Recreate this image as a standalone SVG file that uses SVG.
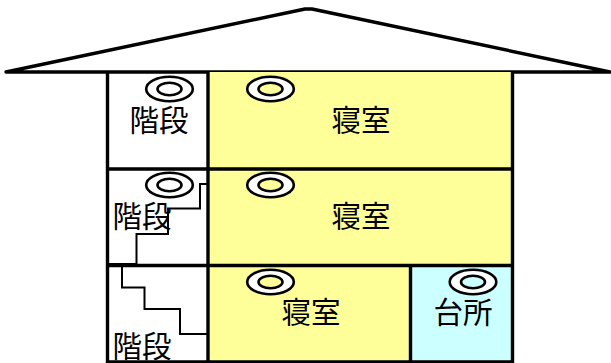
<svg xmlns="http://www.w3.org/2000/svg" width="611" height="363" viewBox="0 0 611 363">
<style>
.w{stroke:#000;stroke-width:3.4;fill:none}
.f{stroke:none}
.s{stroke:#000;stroke-width:2;fill:none}
.o{fill:#fff;stroke:#000;stroke-width:2.6}
.i{stroke:#000;stroke-width:2.6}
text{font-family:"Noto Sans CJK JP","Noto Sans CJK SC",sans-serif;font-size:29.500px;fill:#000;text-anchor:middle}
</style>
<rect width="611" height="363" fill="#fff"/>
<g id="roof"><path d="M6 72 L305 9 L312 9 L610 72 Z" fill="#fff" stroke="#000" stroke-width="3.400" stroke-linejoin="round"/></g>
<g id="room-1"><rect class="f" x="208" y="72" width="304" height="97" fill="#ffff99"/></g>
<g id="room-2"><rect class="f" x="208" y="169" width="304" height="96" fill="#ffff99"/></g>
<g id="room-3"><rect class="f" x="208" y="265" width="202" height="97" fill="#ffff99"/></g>
<g id="kitchen"><rect class="f" x="410" y="265" width="102" height="97" fill="#ccffff"/></g>
<g id="walls">
<path class="w" d="M107.500 72V362H512.500V72M208 72V362M107.500 169H512.500M107.500 265.500H512.500M410.500 265V362"/>
</g>
<g id="connectors">
<path class="s" d="M108 264H136.500V234H168V208.500H200V184H208"/>
<path class="s" d="M122 265V287.500H144.500V309H180V334H208"/>
</g>
<g id="lamp-1"><ellipse class="o" cx="169.500" cy="89" rx="23.300" ry="12.200"/><ellipse class="i" cx="169.500" cy="89" rx="12" ry="6.200" fill="#fff"/></g>
<g id="lamp-2"><ellipse class="o" cx="270.500" cy="89" rx="23.300" ry="12.200"/><ellipse class="i" cx="270.500" cy="89" rx="12" ry="6.200" fill="#ffff99"/></g>
<g id="lamp-3"><ellipse class="o" cx="169.500" cy="185" rx="23.300" ry="12.200"/><ellipse class="i" cx="169.500" cy="185" rx="12" ry="6.200" fill="#fff"/></g>
<g id="lamp-4"><ellipse class="o" cx="270.500" cy="185" rx="23.300" ry="12.200"/><ellipse class="i" cx="270.500" cy="185" rx="12" ry="6.200" fill="#ffff99"/></g>
<g id="lamp-5"><ellipse class="o" cx="270.500" cy="282" rx="23.300" ry="12.200"/><ellipse class="i" cx="270.500" cy="282" rx="12" ry="6.200" fill="#ffff99"/></g>
<g id="lamp-6"><ellipse class="o" cx="473" cy="282" rx="23.300" ry="12.200"/><ellipse class="i" cx="473" cy="282" rx="12" ry="6.200" fill="#ccffff"/></g>
<g id="labels">
<text x="159" y="130.500">階段</text>
<text x="361" y="130.500">寝室</text>
<text x="142" y="227">階段</text>
<text x="361" y="227">寝室</text>
<text x="311" y="323">寝室</text>
<text x="463" y="323">台所</text>
<text x="142" y="356.500">階段</text>
</g>
</svg>
